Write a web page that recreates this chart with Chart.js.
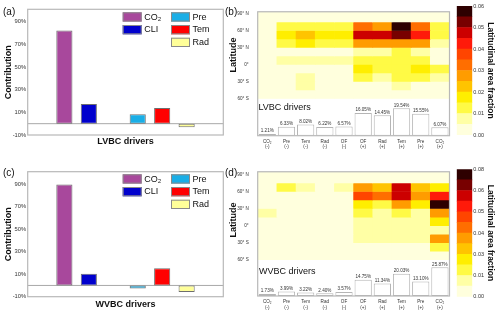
<!DOCTYPE html>
<html><head><meta charset="utf-8">
<script src="https://cdn.jsdelivr.net/npm/chart.js@4/dist/chart.umd.min.js"></script>
<style>
html,body{margin:0;padding:0;background:#fff;}
#wrap{position:relative;width:500px;height:319px;overflow:hidden;font-family:"Liberation Sans",Arial,sans-serif;}
canvas{position:absolute;}
.lbl{position:absolute;white-space:nowrap;color:#111;}
.rot{transform-origin:center center;transform:translate(-50%,-50%) rotate(-90deg);}
</style></head><body>
<div id="wrap">
<canvas id="cA" width="228" height="160" style="left:0;top:0;width:228px;height:160px"></canvas>
<canvas id="cB" width="232" height="160" style="left:220px;top:0;width:232px;height:160px"></canvas>
<canvas id="cBb" width="48" height="160" style="left:452px;top:0;width:48px;height:160px"></canvas>
<canvas id="cC" width="228" height="159" style="left:0;top:160px;width:228px;height:159px"></canvas>
<canvas id="cD" width="232" height="159" style="left:220px;top:160px;width:232px;height:159px"></canvas>
<canvas id="cDb" width="48" height="159" style="left:452px;top:160px;width:48px;height:159px"></canvas>

<div class="lbl" style="left:3px;top:6px;font-size:10px;line-height:12px;">(a)</div>
<div class="lbl" style="left:225px;top:6px;font-size:10px;line-height:12px;">(b)</div>
<div class="lbl" style="left:3px;top:167px;font-size:10px;line-height:12px;">(c)</div>
<div class="lbl" style="left:225px;top:167px;font-size:10px;line-height:12px;">(d)</div>
<div class="lbl rot" style="left:233px;top:55px;font-size:9px;line-height:10px;font-weight:bold;">Latitude</div>
<div class="lbl rot" style="left:233px;top:220px;font-size:9px;line-height:10px;font-weight:bold;">Latitude</div>
<div class="lbl" style="left:258.5px;top:103px;font-size:9px;line-height:9px;">LVBC drivers</div>
<div class="lbl" style="left:259px;top:267.4px;font-size:9px;line-height:9px;">WVBC drivers</div>
</div>
<script>
const FONT = '"Liberation Sans", Arial, sans-serif';
Chart.defaults.font.family = FONT;
Chart.defaults.color = '#333';

// ---------- Panels (a) and (c): contributions ----------
const contribCategories = ['', 'CO₂', 'CLI', '', 'Pre', 'Tem', 'Rad', ''];
const contribLVBC = [null, 82.3, 17.4, null, 8.3, 13.9, -3.2, null];
const contribWVBC = [null, 89.7, 10.3, null, -2.7, 15.3, -5.9, null];
const contribTicks = [-10, 10, 30, 50, 70, 90];
const legendLabels = ['CO₂', 'CLI', 'Pre', 'Tem', 'Rad'];
const driverColor = {'CO₂':'#A8489C', 'CLI':'#0000CD', 'Pre':'#1AAEE6', 'Tem':'#FF0000', 'Rad':'#FFFF99'};

// ---------- Panels (b) and (d): latitudinal area fraction ----------
const heatDrivers = [['CO₂','(-)'],['Pre','(-)'],['Tem','(-)'],['Rad','(-)'],['OF','(-)'],
                     ['OF','(+)'],['Rad','(+)'],['Tem','(+)'],['Pre','(+)'],['CO₂','(+)']];
const latEdges = [90, 75, 60, 45, 30, 15, 0, -15, -30, -45, -60];
const latTicks = [-60, -30, 0, 30, 60, 90];
const latTickLabels = ['60° S', '30° S', '0°', '30° N', '60° N', '90° N'];

// rows: 90-75N, 75-60N, ..., 45-60S ; columns follow heatDrivers
const heatLVBC = [
  [0.001,0.001,0.001,0.001,0.001,0.002,0.002,0.002,0.002,0.002],
  [0.002,0.0125,0.0125,0.0125,0.0125,0.0325,0.0275,0.0575,0.0325,0.0125],
  [0.002,0.0175,0.0225,0.0175,0.0175,0.0475,0.0475,0.0525,0.0425,0.0125],
  [0.002,0.0125,0.0175,0.0125,0.0125,0.0275,0.0275,0.0275,0.0275,0.0075],
  [0.002,0.003,0.003,0.003,0.003,0.0075,0.0075,0.0125,0.0075,0.002],
  [0.002,0.0075,0.0075,0.0075,0.0075,0.0125,0.0125,0.0125,0.0125,0.002],
  [0.001,0.002,0.002,0.002,0.002,0.0175,0.0125,0.0125,0.0175,0.0125],
  [0.001,0.002,0.0075,0.002,0.002,0.0125,0.0075,0.0125,0.0125,0.0075],
  [0.001,0.001,0.0075,0.001,0.001,0.003,0.003,0.0075,0.003,0.002],
  [0.001,0.001,0.001,0.001,0.001,0.001,0.001,0.001,0.001,0.001]
];
const heatWVBC = [
  [0.001,0.001,0.001,0.001,0.001,0.002,0.002,0.002,0.002,0.002],
  [0.002,0.0167,0.010,0.002,0.010,0.0367,0.030,0.0633,0.030,0.0233],
  [0.002,0.003,0.003,0.002,0.003,0.050,0.0433,0.0633,0.0367,0.0567],
  [0.002,0.002,0.002,0.002,0.002,0.0233,0.0167,0.0367,0.0233,0.0767],
  [0.010,0.002,0.002,0.002,0.002,0.0167,0.010,0.0167,0.010,0.0367],
  [0.002,0.001,0.001,0.001,0.001,0.010,0.010,0.010,0.010,0.0233],
  [0.002,0.001,0.001,0.001,0.001,0.010,0.010,0.010,0.010,0.010],
  [0.002,0.001,0.001,0.001,0.001,0.010,0.010,0.010,0.010,0.0367],
  [0.001,0.001,0.001,0.001,0.001,0.003,0.003,0.003,0.003,0.0167],
  [0.001,0.001,0.001,0.001,0.001,0.001,0.001,0.001,0.001,0.001]
];
const areaLVBC = [1.21, 6.33, 8.02, 6.22, 6.57, 16.05, 14.45, 19.54, 15.55, 6.07];
const areaWVBC = [1.73, 3.99, 3.22, 2.40, 3.57, 14.75, 11.34, 20.03, 13.10, 25.87];

// colour bar
const cbarColors = ['#FFFFDD','#FFFFA5','#FFFA45','#FFEE00','#FFC400','#FF9C00',
                    '#FF6E00','#FF4500','#FF1A0A','#CC0000','#780000','#2E0000'];
const cbarMaxB = 0.06, cbarMaxD = 0.08;
const cbarTicksB = [0, 0.01, 0.02, 0.03, 0.04, 0.05, 0.06];
const cbarTickLabelsB = ['0.00','0.01','0.02','0.03','0.04','0.05','0.06'];
const cbarTicksD = [0, 0.013333, 0.026667, 0.04, 0.053333, 0.066667, 0.08];
const cbarTickLabelsD = ['0.00','0.01','0.03','0.04','0.05','0.06','0.08'];

function colorFor(v, cmax) {
  const n = cbarColors.length;
  return cbarColors[Math.max(0, Math.min(n - 1, Math.floor(v / (cmax / n))))];
}

// ---------- plugins ----------
const framePlugin = {
  id: 'frame',
  afterDraw(chart, args, opts) {
    const {ctx, chartArea: {left, top, right, bottom}} = chart;
    ctx.save();
    ctx.strokeStyle = opts.color || '#b8b8b8';
    ctx.lineWidth = opts.width || 1.2;
    ctx.strokeRect(left, top, right - left, bottom - top);
    ctx.restore();
  }
};
const zeroLinePlugin = {
  id: 'zeroLine',
  beforeDatasetsDraw(chart) {
    const {ctx, chartArea: {left, right}, scales: {y}} = chart;
    const py = y.getPixelForValue(0);
    ctx.save();
    ctx.strokeStyle = '#a8a8a8'; ctx.lineWidth = 1;
    ctx.beginPath(); ctx.moveTo(left, py); ctx.lineTo(right, py); ctx.stroke();
    ctx.restore();
  }
};
const gridLegendPlugin = {
  id: 'gridLegend',
  afterDraw(chart, args, opts) {
    const {ctx, chartArea} = chart;
    const pos = [[0,0],[0,1],[1,0],[1,1],[1,2]];
    const colX = [95, 143.3];
    ctx.save();
    ctx.font = '9px ' + FONT;
    ctx.textBaseline = 'middle';
    ctx.textAlign = 'left';
    legendLabels.forEach((lab, i) => {
      const x = chartArea.left + colX[pos[i][0]];
      const y = chartArea.top + opts.top + pos[i][1] * 12.7;
      ctx.fillStyle = driverColor[lab];
      ctx.fillRect(x, y, 19, 9.3);
      ctx.strokeStyle = '#8a8a8a'; ctx.lineWidth = 1;
      ctx.strokeRect(x + 0.5, y + 0.5, 18, 8.3);
      ctx.fillStyle = '#111';
      ctx.fillText(lab, x + 21.5, y + 4.9);
    });
    ctx.restore();
  }
};
const heatBgPlugin = {
  id: 'heatBg',
  beforeDatasetsDraw(chart) {
    const {ctx, chartArea: {left, top, right}, scales: {lat}} = chart;
    const yb = lat.getPixelForValue(latEdges[latEdges.length - 1]);
    ctx.save();
    ctx.fillStyle = cbarColors[0];
    ctx.fillRect(left, top, right - left, yb - top);
    ctx.restore();
  }
};
const areaLabelPlugin = {
  id: 'areaLabels',
  afterDatasetsDraw(chart) {
    const {ctx} = chart;
    const idx = chart.data.datasets.findIndex(d => d.isArea);
    const meta = chart.getDatasetMeta(idx);
    const vals = chart.data.datasets[idx].data;
    ctx.save();
    ctx.font = '4.6px ' + FONT;
    ctx.fillStyle = '#333';
    ctx.textAlign = 'center';
    ctx.textBaseline = 'bottom';
    meta.data.forEach((el, i) => {
      ctx.fillText(vals[i].toFixed(2) + '%', el.x, el.y - 0.6);
    });
    ctx.restore();
  }
};

// ---------- builders ----------
function contribChart(id, values, title, pad, xAxisH, titlePadBottom, legendTop) {
  return new Chart(document.getElementById(id), {
    type: 'bar',
    data: {
      labels: contribCategories,
      datasets: [{
        data: values,
        backgroundColor: contribCategories.map(c => driverColor[c] || '#fff'),
        borderColor: '#6e6e6e', borderWidth: 1, borderSkipped: false,
        barPercentage: 0.66, categoryPercentage: 1
      }]
    },
    options: {
      responsive: false, animation: false, devicePixelRatio: 1,
      layout: {padding: pad},
      plugins: {legend: {display: false}, tooltip: {enabled: false}, gridLegend: {top: legendTop}, frame: {}},
      scales: {
        x: {
          grid: {display: false, drawTicks: false}, border: {display: false},
          ticks: {display: false},
          title: {display: true, text: title, color: '#111', font: {size: 9, weight: 'bold'}, padding: {top: 0, bottom: titlePadBottom}},
          afterFit: s => { s.height = xAxisH; }
        },
        y: {
          min: -10, max: 101,
          grid: {display: false, drawTicks: false}, border: {display: false},
          afterBuildTicks: s => { s.ticks = contribTicks.map(v => ({value: v})); },
          ticks: {font: {size: 5.8}, padding: 1.5, color: '#333', callback: v => v + '%'},
          title: {display: true, text: 'Contribution', color: '#111', font: {size: 9, weight: 'bold'}, padding: {top: 3, bottom: 0}},
          afterFit: s => { s.width = 27.7; }
        }
      }
    },
    plugins: [zeroLinePlugin, framePlugin, gridLegendPlugin]
  });
}

function heatChart(id, heat, area, cmax, latMin, latMax, pctMax, pad, xAxisH) {
  const datasets = heat.map((row, r) => ({
    yAxisID: 'lat', grouped: false, barPercentage: 1, categoryPercentage: 1,
    data: row.map(() => [latEdges[r + 1], latEdges[r]]),
    backgroundColor: row.map(v => colorFor(v, cmax)),
    borderWidth: 0
  }));
  datasets.push({
    yAxisID: 'pct', grouped: false, barPercentage: 0.9, categoryPercentage: 1,
    data: area, backgroundColor: '#ffffff', borderColor: '#b5b5b5', borderWidth: 1,
    borderSkipped: false, isArea: true
  });
  return new Chart(document.getElementById(id), {
    type: 'bar',
    data: {labels: heatDrivers, datasets},
    options: {
      responsive: false, animation: false, devicePixelRatio: 1,
      layout: {padding: pad},
      plugins: {legend: {display: false}, tooltip: {enabled: false}, frame: {}},
      scales: {
        x: {
          grid: {display: false, drawTicks: false}, border: {display: false},
          ticks: {font: {size: 4.6}, padding: 3, color: '#333', maxRotation: 0, autoSkip: false},
          afterFit: s => { s.height = xAxisH; }
        },
        lat: {
          type: 'linear', position: 'left', min: latMin, max: latMax,
          grid: {display: false, drawTicks: false}, border: {display: false},
          afterBuildTicks: s => { s.ticks = latTicks.map(v => ({value: v})); },
          ticks: {font: {size: 4.6}, padding: 9, color: '#333',
                  callback: v => latTickLabels[latTicks.indexOf(v)]},
          afterFit: s => { s.width = 37.7; }
        },
        pct: {type: 'linear', position: 'right', display: false, min: 0, max: pctMax}
      }
    },
    plugins: [heatBgPlugin, framePlugin, areaLabelPlugin]
  });
}

function cbarChart(id, cmax, ticks, labels, pad) {
  const n = cbarColors.length;
  return new Chart(document.getElementById(id), {
    type: 'bar',
    data: {
      labels: [''],
      datasets: cbarColors.map(c => ({data: [cmax / n], backgroundColor: c, borderWidth: 0, barPercentage: 1, categoryPercentage: 1}))
    },
    options: {
      responsive: false, animation: false, devicePixelRatio: 1,
      layout: {padding: pad},
      plugins: {legend: {display: false}, tooltip: {enabled: false}},
      scales: {
        x: {stacked: true, display: false},
        y: {
          stacked: true, position: 'right', min: 0, max: cmax,
          grid: {display: false, drawTicks: false}, border: {display: false},
          afterBuildTicks: s => { s.ticks = ticks.map(v => ({value: v})); },
          ticks: {font: {size: 5.5}, padding: 1, color: '#333',
                  callback: (v, i) => labels[i]},
          title: {display: true, text: 'Latitudinal area fraction', color: '#111',
                  font: {size: 8.5, weight: 'bold'}, padding: {top: 4.9, bottom: 0}},
          afterFit: s => { s.width = 27.7; }
        }
      }
    }
  });
}

contribChart('cA', contribLVBC, 'LVBC drivers', {left: 0, top: 9.3, right: 4.7, bottom: 0}, 25, 12.9, 3);
contribChart('cC', contribWVBC, 'WVBC drivers', {left: 0, top: 11.7, right: 4.7, bottom: 0}, 22.3, 9.3, 2.6);
heatChart('cB', heatLVBC, areaLVBC, cbarMaxB, -126.2, 93.2, 88, {left: 0, top: 7.7, right: 2.5, bottom: 0}, 24.3);
heatChart('cD', heatWVBC, areaWVBC, cbarMaxD, -123.9, 94.7, 112, {left: 0, top: 8.5, right: 2.5, bottom: 0}, 23);
cbarChart('cBb', cbarMaxB, cbarTicksB, cbarTickLabelsB, {left: 4.7, top: 6, right: 0, bottom: 25});
cbarChart('cDb', cbarMaxD, cbarTicksD, cbarTickLabelsD, {left: 4.7, top: 9.3, right: 0, bottom: 22.3});
</script>
</body></html>
